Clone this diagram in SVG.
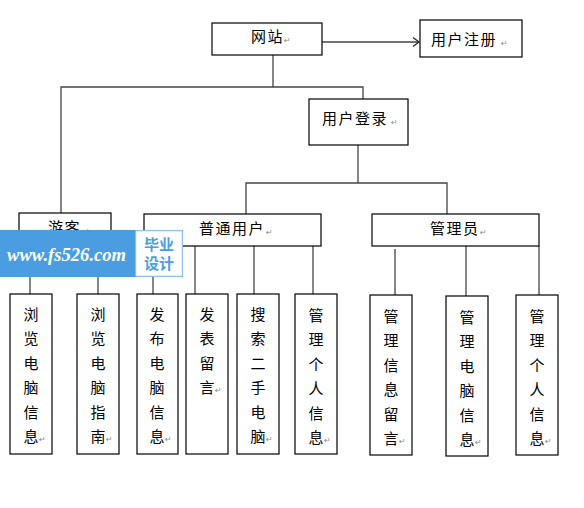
<svg xmlns="http://www.w3.org/2000/svg" width="584" height="508" viewBox="0 0 584 508">
<style>
.box{fill:#fff;stroke:#000;stroke-width:1.2}
.t{font-family:"Noto Sans CJK SC","Noto Sans",sans-serif;font-size:15px;fill:#000}
.h{letter-spacing:1.5px}
.v{text-anchor:middle}
.pm{font-family:"DejaVu Sans",sans-serif;font-size:8px;fill:#888}
.c{fill:none;stroke:#444;stroke-width:1.3}
</style>
<defs>
<marker id="arr" markerUnits="userSpaceOnUse" markerWidth="12" markerHeight="12" refX="8" refY="6" orient="auto">
<path d="M2,1.5 L8,6 L2,10.5" fill="none" stroke="#222" stroke-width="1.3"/>
</marker>
</defs>
<rect width="584" height="508" fill="#fff"/>
<g id="connectors">
<line class="c" x1="322" y1="42" x2="419" y2="42" stroke="#222" marker-end="url(#arr)"/>
<polyline class="c" points="273,55 273,87"/>
<polyline class="c" points="61,213 61,87 363,87 363,99"/>
<polyline class="c" points="358,145 358,183"/>
<polyline class="c" points="246,214 246,183 447,183 447,214"/>
<line class="c" x1="30" y1="246" x2="30" y2="294"/>
<line class="c" x1="98" y1="246" x2="98" y2="294"/>
<line class="c" x1="153" y1="246" x2="153" y2="294"/>
<line class="c" x1="195" y1="246" x2="195" y2="294"/>
<line class="c" x1="254" y1="246" x2="254" y2="294"/>
<line class="c" x1="313" y1="246" x2="313" y2="294"/>
<line class="c" x1="395" y1="249" x2="395" y2="295"/>
<line class="c" x1="466" y1="246" x2="466" y2="296"/>
<line class="c" x1="539" y1="246" x2="539" y2="295"/>
</g>
<g id="wangzhan"><rect class="box" x="212" y="23" width="110" height="32"/><text class="t h" x="251" y="42">网站</text><text class="pm" x="284" y="43">↵</text></g>
<g id="zhuce"><rect class="box" x="420" y="20" width="102" height="37"/><text class="t h" x="431" y="45">用户注册</text><text class="pm" x="501" y="46">↵</text></g>
<g id="denglu"><rect class="box" x="309" y="99" width="99" height="46"/><text class="t h" x="322" y="124">用户登录</text><text class="pm" x="391" y="125">↵</text></g>
<g id="youke"><rect class="box" x="19" y="213" width="92" height="33"/><text class="t h" x="48" y="233">游客</text><text class="pm" x="83" y="234">↵</text></g>
<g id="putong"><rect class="box" x="144" y="214" width="177" height="32"/><text class="t h" x="199" y="234">普通用户</text><text class="pm" x="266" y="235">↵</text></g>
<g id="guanli"><rect class="box" x="372" y="214" width="167" height="32"/><text class="t h" x="430" y="234">管理员</text><text class="pm" x="480" y="235">↵</text></g>
<g id="n1"><rect class="box" x="10" y="294" width="42" height="160"/><text class="t v" x="31"><tspan x="31" y="320">浏</tspan><tspan x="31" y="344.4">览</tspan><tspan x="31" y="368.8">电</tspan><tspan x="31" y="393.2">脑</tspan><tspan x="31" y="417.6">信</tspan><tspan x="31" y="442">息</tspan></text><text class="pm" x="39" y="442">↵</text></g>
<g id="n2"><rect class="box" x="77" y="294" width="42" height="160"/><text class="t v" x="98"><tspan x="98" y="320">浏</tspan><tspan x="98" y="344.4">览</tspan><tspan x="98" y="368.8">电</tspan><tspan x="98" y="393.2">脑</tspan><tspan x="98" y="417.6">指</tspan><tspan x="98" y="442">南</tspan></text><text class="pm" x="106" y="442">↵</text></g>
<g id="n3"><rect class="box" x="137" y="294" width="41" height="160"/><text class="t v" x="157"><tspan x="157" y="320">发</tspan><tspan x="157" y="344.4">布</tspan><tspan x="157" y="368.8">电</tspan><tspan x="157" y="393.2">脑</tspan><tspan x="157" y="417.6">信</tspan><tspan x="157" y="442">息</tspan></text><text class="pm" x="165" y="442">↵</text></g>
<g id="n4"><rect class="box" x="186" y="294" width="42" height="160"/><text class="t v" x="207"><tspan x="207" y="320">发</tspan><tspan x="207" y="344.4">表</tspan><tspan x="207" y="368.8">留</tspan><tspan x="207" y="393.2">言</tspan></text><text class="pm" x="215" y="393">↵</text></g>
<g id="n5"><rect class="box" x="237" y="294" width="42" height="160"/><text class="t v" x="258"><tspan x="258" y="320">搜</tspan><tspan x="258" y="344.4">索</tspan><tspan x="258" y="368.8">二</tspan><tspan x="258" y="393.2">手</tspan><tspan x="258" y="417.6">电</tspan><tspan x="258" y="442">脑</tspan></text><text class="pm" x="266" y="442">↵</text></g>
<g id="n6"><rect class="box" x="295" y="294" width="42" height="160"/><text class="t v" x="316"><tspan x="316" y="321">管</tspan><tspan x="316" y="345.4">理</tspan><tspan x="316" y="369.8">个</tspan><tspan x="316" y="394.2">人</tspan><tspan x="316" y="418.6">信</tspan><tspan x="316" y="443">息</tspan></text><text class="pm" x="324" y="443">↵</text></g>
<g id="n7"><rect class="box" x="370" y="295" width="42" height="160"/><text class="t v" x="391"><tspan x="391" y="322">管</tspan><tspan x="391" y="346.4">理</tspan><tspan x="391" y="370.8">信</tspan><tspan x="391" y="395.2">息</tspan><tspan x="391" y="419.6">留</tspan><tspan x="391" y="444">言</tspan></text><text class="pm" x="399" y="444">↵</text></g>
<g id="n8"><rect class="box" x="446" y="296" width="42" height="160"/><text class="t v" x="467"><tspan x="467" y="323">管</tspan><tspan x="467" y="347.4">理</tspan><tspan x="467" y="371.8">电</tspan><tspan x="467" y="396.2">脑</tspan><tspan x="467" y="420.6">信</tspan><tspan x="467" y="445">息</tspan></text><text class="pm" x="475" y="445">↵</text></g>
<g id="n9"><rect class="box" x="516" y="295" width="42" height="160"/><text class="t v" x="537"><tspan x="537" y="322">管</tspan><tspan x="537" y="346.4">理</tspan><tspan x="537" y="370.8">个</tspan><tspan x="537" y="395.2">人</tspan><tspan x="537" y="419.6">信</tspan><tspan x="537" y="444">息</tspan></text><text class="pm" x="545" y="444">↵</text></g>
<g id="banner">
<rect x="0" y="230" width="183" height="47" fill="#4a9de0"/>
<rect x="136" y="231" width="46" height="45" fill="#fff" stroke="#cfe3f5" stroke-width="1"/>
<text x="7" y="261" textLength="119" lengthAdjust="spacingAndGlyphs" font-family="Liberation Serif,serif" font-style="italic" font-weight="bold" font-size="18.5" fill="#fff">www.fs526.com</text>
<text x="159" y="250" text-anchor="middle" font-family="Noto Sans CJK SC,sans-serif" font-size="15" font-weight="bold" fill="#4a9de0">毕业</text>
<text x="159" y="269" text-anchor="middle" font-family="Noto Sans CJK SC,sans-serif" font-size="15" font-weight="bold" fill="#4a9de0">设计</text>
</g>
</svg>
